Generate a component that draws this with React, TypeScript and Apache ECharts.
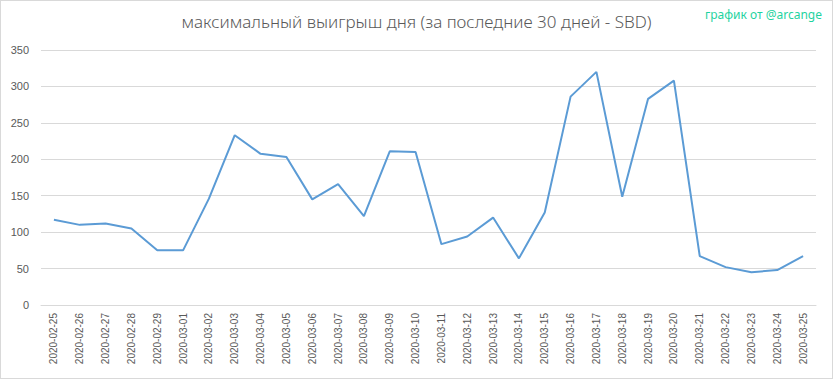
import React, { useEffect, useRef } from "react";
import * as echarts from "echarts";

const dates = [
  "2020-02-25", "2020-02-26", "2020-02-27", "2020-02-28", "2020-02-29",
  "2020-03-01", "2020-03-02", "2020-03-03", "2020-03-04", "2020-03-05",
  "2020-03-06", "2020-03-07", "2020-03-08", "2020-03-09", "2020-03-10",
  "2020-03-11", "2020-03-12", "2020-03-13", "2020-03-14", "2020-03-15",
  "2020-03-16", "2020-03-17", "2020-03-18", "2020-03-19", "2020-03-20",
  "2020-03-21", "2020-03-22", "2020-03-23", "2020-03-24", "2020-03-25",
];

const maxWin = [
  117, 110, 112, 105, 75, 75, 146, 233, 207.5, 203,
  145, 166, 122, 211, 210, 83.5, 94, 120, 64, 127,
  286, 320, 148.5, 283, 308, 67, 52, 45, 48, 67,
];

const titleText = "максимальный выигрыш дня (за последние 30 дней - SBD)";
const watermark = "график от @arcange";

export default function App() {
  const ref = useRef<HTMLDivElement>(null);
  useEffect(() => {
    if (!ref.current) return;
    const chart = echarts.init(ref.current, null, { renderer: "svg" });
    chart.setOption({
      animation: false,
      backgroundColor: "#ffffff",
      title: {
        text: titleText,
        left: "center",
        top: 7,
        textStyle: {
          fontFamily: "Noto Sans",
          fontWeight: 300,
          fontSize: 17,
          color: "#595959",
        },
      },
      graphic: [
        {
          type: "text",
          right: 10,
          top: 7,
          style: {
            text: watermark,
            fontFamily: "Noto Sans",
            fontSize: 12,
            fill: "#1ed3a0",
          },
        },
      ],
      grid: { left: 40, right: 16, top: 49, bottom: 73 },
      xAxis: {
        type: "category",
        data: dates,
        boundaryGap: true,
        axisLine: { lineStyle: { color: "#d9d9d9" } },
        axisTick: { show: false },
        axisLabel: {
          rotate: 90,
          interval: 0,
          margin: 8,
          fontFamily: "Liberation Sans",
          fontSize: 10,
          color: "#595959",
        },
      },
      yAxis: {
        type: "value",
        min: 0,
        max: 350,
        interval: 50,
        axisLine: { show: false },
        axisTick: { show: false },
        splitLine: { lineStyle: { color: "#d9d9d9" } },
        axisLabel: {
          margin: 12,
          fontFamily: "Liberation Sans",
          fontSize: 11,
          color: "#595959",
        },
      },
      series: [
        {
          type: "line",
          data: maxWin,
          symbol: "none",
          lineStyle: { color: "#5b9bd5", width: 2 },
        },
      ],
    });
    return () => chart.dispose();
  }, []);
  return (
    <div
      ref={ref}
      style={{
        position: "fixed",
        left: 0,
        top: 0,
        width: 833,
        height: 379,
        boxSizing: "border-box",
        border: "1px solid #d9d9d9",
      }}
    />
  );
}
